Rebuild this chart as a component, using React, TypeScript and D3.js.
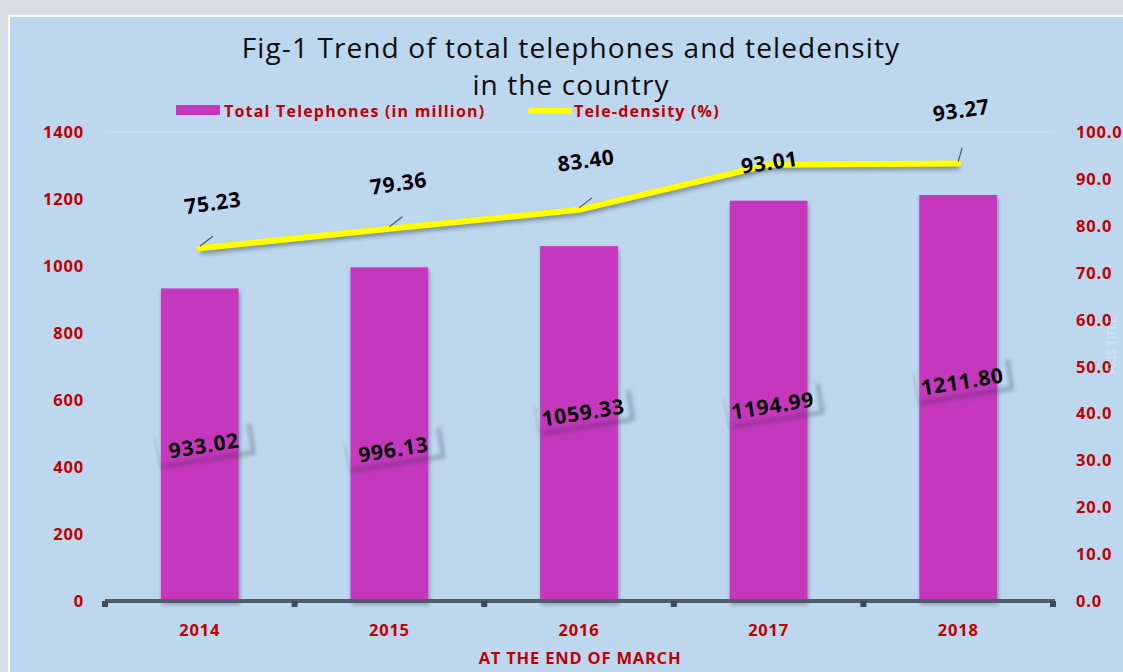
import React from "react";
import * as d3 from "d3";

const years = ["2014", "2015", "2016", "2017", "2018"];
const telephones = [933.02, 996.13, 1059.33, 1194.99, 1211.8];
const teledensity = [75.23, 79.36, 83.4, 93.01, 93.27];
const leftTicks = [0, 200, 400, 600, 800, 1000, 1200, 1400];
const rightTicks = [0, 10, 20, 30, 40, 50, 60, 70, 80, 90, 100];
const barLabelY = [445, 449, 412, 405, 381];
const lineLabelPos = [
  { dx: 14, dy: -38, leader: true },
  { dx: 10, dy: -38, leader: true },
  { dx: 8, dy: -42, leader: true },
  { dx: 2, dy: 5, leader: false },
  { dx: 4, dy: -46, leader: true },
];

const W = 1123;
const H = 672;
const RED = "#c00000";
const FONT = "'Open Sans', 'DejaVu Sans', sans-serif";

export default function App() {
  const x = d3.scaleBand<string>().domain(years).range([105, 1053]).paddingInner(0).paddingOuter(0);
  const yL = d3.scaleLinear().domain([0, 1400]).range([601, 132]);
  const yR = d3.scaleLinear().domain([0, 100]).range([601, 132]);
  const barW = x.bandwidth() * 0.41;
  const cx = (y: string) => (x(y) as number) + x.bandwidth() / 2;
  const line = d3
    .line<number>()
    .x((_, i) => cx(years[i]))
    .y((d) => yR(d))
    .curve(d3.curveLinear);
  const tickXs = years.map((y) => x(y) as number).concat([x.range()[1]]);

  const axisText = { fontFamily: FONT, fontWeight: "bold" as const, fontSize: 16.5, fill: RED, letterSpacing: 0.8 };

  return (
    <svg
      width={W}
      height={H}
      style={{ position: "fixed", left: 0, top: 0 }}
      xmlns="http://www.w3.org/2000/svg"
    >
      <defs>
        <filter id="sh" x="-20%" y="-20%" width="140%" height="160%">
          <feDropShadow dx="1" dy="3" stdDeviation="2" floodColor="#000" floodOpacity="0.35" />
        </filter>
        <filter id="blur" x="-50%" y="-50%" width="200%" height="200%">
          <feGaussianBlur stdDeviation="2" />
        </filter>
      </defs>
      <rect x={0} y={0} width={W} height={H} fill="#d6dde5" />
      <rect x={9} y={16} width={W} height={H} fill="#bdd7ee" stroke="#ffffff" strokeWidth={2} />

      {/* Title */}
      <text x={571} y={58} textAnchor="middle" fontFamily={FONT} fontSize={28} letterSpacing={1.1} fill="#0d0d0d">
        Fig-1 Trend of total telephones and teledensity
      </text>
      <text x={571} y={95} textAnchor="middle" fontFamily={FONT} fontSize={28} letterSpacing={1.1} fill="#0d0d0d">
        in the country
      </text>

      {/* Legend */}
      <rect x={176} y={105} width={44} height={10} fill="#c537bd" />
      <text x={224} y={117} fontFamily={FONT} fontWeight="bold" fontSize={16} letterSpacing={1.2} fill={RED}>
        Total Telephones (in million)
      </text>
      <line x1={531} y1={111} x2={569} y2={111} stroke="#ffff00" strokeWidth={6} strokeLinecap="round" />
      <text x={574} y={117} fontFamily={FONT} fontWeight="bold" fontSize={16} letterSpacing={1.2} fill={RED}>
        Tele-density (%)
      </text>

      {/* gridline top */}
      <line x1={105} y1={yL(1400)} x2={1053} y2={yL(1400)} stroke="#c9e0f3" strokeWidth={1} />

      {/* Left axis */}
      {leftTicks.map((t) => (
        <text key={"l" + t} x={84} y={yL(t) + 6} textAnchor="end" {...axisText}>
          {t}
        </text>
      ))}
      {/* Right axis */}
      {rightTicks.map((t) => (
        <text key={"r" + t} x={1076} y={yR(t) + 6} {...axisText}>
          {t.toFixed(1)}
        </text>
      ))}
      <text
        transform={`translate(1116,${345}) rotate(-90)`}
        textAnchor="middle"
        fontFamily={FONT}
        fontSize={12}
        fill="#ffffff"
        opacity={0.35}
      >
        AXIS TITLE
      </text>

      {/* Bars */}
      {telephones.map((v, i) => (
        <rect
          key={"b" + i}
          x={cx(years[i]) - barW / 2}
          y={yL(v)}
          width={barW}
          height={yL(0) - yL(v)}
          fill="#c537bd"
          filter="url(#sh)"
        />
      ))}

      {/* X axis */}
      <line x1={105} y1={601} x2={1055} y2={601} stroke="#4f5d6a" strokeWidth={4} />
      {tickXs.map((t, i) => (
        <rect key={"t" + i} x={t - 3} y={601} width={6} height={6} fill="#3f4a55" />
      ))}
      {years.map((y) => (
        <text key={"x" + y} x={cx(y)} y={636} textAnchor="middle" {...axisText}>
          {y}
        </text>
      ))}
      <text x={580} y={664} textAnchor="middle" {...axisText}>
        AT THE END OF MARCH
      </text>

      {/* Bar labels */}
      {telephones.map((v, i) => {
        const px = cx(years[i]) + 4;
        const py = barLabelY[i];
        return (
          <g key={"bl" + i} transform={`translate(${px},${py}) rotate(-9)`}>
            <path
              d="M -44 15 L 48 15 L 48 -14"
              fill="none"
              stroke="#1a2a3a"
              strokeWidth={3}
              opacity={0.4}
              filter="url(#blur)"
            />
            <path d="M -48 -14 L -46 15" fill="none" stroke="#1a2a3a" strokeWidth={2} opacity={0.2} filter="url(#blur)" />
            <text
              x={0}
              y={8}
              textAnchor="middle"
              fontFamily={FONT}
              fontWeight="bold"
              fontSize={21}
              letterSpacing={0.8}
              fill="#000"
            >
              {v.toFixed(2)}
            </text>
          </g>
        );
      })}

      {/* Line */}
      <path
        d={line(teledensity) || ""}
        fill="none"
        stroke="#000"
        strokeWidth={6}
        opacity={0.35}
        transform="translate(1,3)"
        filter="url(#blur)"
      />
      <path d={line(teledensity) || ""} fill="none" stroke="#ffff00" strokeWidth={6} strokeLinecap="round" />

      {/* Line labels */}
      {teledensity.map((v, i) => {
        const px = cx(years[i]);
        const py = yR(v);
        const p = lineLabelPos[i];
        return (
          <g key={"ll" + i}>
            {p.leader && (
              <line
                x1={px}
                y1={py - 2}
                x2={px + (i === 4 ? 4 : 13)}
                y2={py - (i === 4 ? 16 : 12)}
                stroke="#555"
                strokeWidth={1.2}
              />
            )}
            <text
              transform={`translate(${px + p.dx},${py + p.dy}) rotate(-8)`}
              textAnchor="middle"
              fontFamily={FONT}
              fontWeight="bold"
              fontSize={21}
              letterSpacing={0.6}
              fill="#000"
            >
              {v.toFixed(2)}
            </text>
          </g>
        );
      })}
    </svg>
  );
}
